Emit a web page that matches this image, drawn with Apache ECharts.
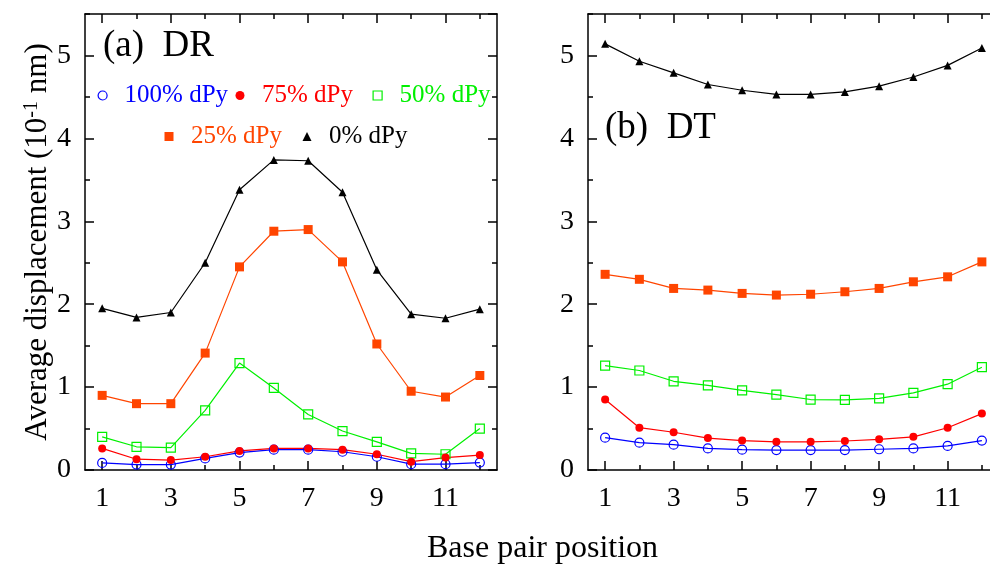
<!DOCTYPE html>
<html>
<head>
<meta charset="utf-8">
<script src="https://cdn.jsdelivr.net/npm/echarts@6/dist/echarts.min.js"></script>
<style>
  html, body { margin: 0; padding: 0; background: #fff; }
  #chart { width: 990px; height: 566px; }
</style>
</head>
<body>
<div id="chart"></div>
<script>
  // base pair positions
  const positions = ['1', '2', '3', '4', '5', '6', '7', '8', '9', '10', '11', '12'];

  // (a) DR
  const drDpy100 = [0.085, 0.065, 0.065, 0.14, 0.21, 0.245, 0.245, 0.22, 0.16, 0.07, 0.07, 0.09];
  const drDpy75 = [0.26, 0.13, 0.12, 0.16, 0.23, 0.26, 0.26, 0.245, 0.19, 0.10, 0.15, 0.18];
  const drDpy50 = [0.40, 0.28, 0.27, 0.72, 1.29, 0.99, 0.67, 0.47, 0.34, 0.20, 0.19, 0.50];
  const drDpy25 = [0.90, 0.80, 0.80, 1.41, 2.45, 2.88, 2.90, 2.51, 1.52, 0.95, 0.88, 1.14];
  const drDpy0 = [1.95, 1.84, 1.90, 2.50, 3.38, 3.74, 3.73, 3.35, 2.415, 1.88, 1.83, 1.94];

  // (b) DT
  const dtDpy100 = [0.39, 0.33, 0.305, 0.26, 0.245, 0.24, 0.24, 0.24, 0.25, 0.26, 0.29, 0.355];
  const dtDpy75 = [0.85, 0.51, 0.455, 0.385, 0.355, 0.34, 0.34, 0.35, 0.37, 0.40, 0.51, 0.68];
  const dtDpy50 = [1.26, 1.20, 1.07, 1.02, 0.96, 0.91, 0.85, 0.845, 0.865, 0.93, 1.035, 1.24];
  const dtDpy25 = [2.36, 2.30, 2.19, 2.17, 2.13, 2.11, 2.12, 2.15, 2.19, 2.27, 2.33, 2.51];
  const dtDpy0 = [5.14, 4.93, 4.79, 4.65, 4.58, 4.53, 4.53, 4.56, 4.63, 4.74, 4.88, 5.09];

  const seriesNames = ['100% dPy', '75% dPy', '50% dPy', '25% dPy', '0% dPy'];

  const FONT = '"Liberation Serif", "DejaVu Serif", serif';
  const AXIS_COLOR = '#000';

  const styles = {
    '100% dPy': { color: '#0000ff', symbol: 'circle', size: 9, hollow: true },
    '75% dPy': { color: '#ff0000', symbol: 'circle', size: 8, hollow: false },
    '50% dPy': { color: '#00f000', symbol: 'rect', size: 9, hollow: true },
    '25% dPy': { color: '#ff4500', symbol: 'rect', size: 9, hollow: false },
    '0% dPy': { color: '#000000', symbol: 'triangle', size: 8, hollow: false },
  };

  // legend key positions (icon centre x, row centre y)
  const legendSpots = {
    '100% dPy': [102, 97],
    '75% dPy': [240, 97],
    '50% dPy': [377, 97],
    '25% dPy': [169, 138],
    '0% dPy': [307, 138],
  };

  const itemStyleFor = (name) => {
    const s = styles[name];
    return s.hollow
      ? { color: 'rgba(0,0,0,0)', borderColor: s.color, borderWidth: 1.2 }
      : { color: s.color, borderWidth: 0 };
  };

  const makeSeries = (name, data, idx) => ({
    name: name,
    type: 'line',
    data: data,
    xAxisIndex: idx * 4,
    yAxisIndex: idx * 4,
    symbol: styles[name].symbol,
    symbolSize: styles[name].size,
    lineStyle: { width: 1.2, color: styles[name].color },
    itemStyle: itemStyleFor(name),
    emphasis: { disabled: true },
  });

  const tickStyle = { color: AXIS_COLOR, width: 1.5 };

  // x axes: major/minor ticks on bottom and top of each panel
  const makeXAxes = (gridIndex) => {
    const base = {
      gridIndex: gridIndex,
      type: 'category',
      data: positions,
      boundaryGap: true,
      splitLine: { show: false },
    };
    return [
      {
        ...base,
        position: 'bottom',
        axisLine: { show: true, onZero: false, lineStyle: tickStyle },
        axisTick: { show: true, inside: true, alignWithLabel: true, interval: 1, length: 9, lineStyle: tickStyle },
        axisLabel: { interval: 1, margin: 15, fontSize: 28, fontFamily: FONT, color: '#000' },
      },
      {
        ...base,
        position: 'bottom',
        axisLine: { show: false, onZero: false },
        axisTick: { show: true, inside: true, alignWithLabel: true, interval: 0, length: 5, lineStyle: tickStyle },
        axisLabel: { show: false },
      },
      {
        ...base,
        position: 'top',
        axisLine: { show: true, onZero: false, lineStyle: tickStyle },
        axisTick: { show: true, inside: true, alignWithLabel: true, interval: 1, length: 9, lineStyle: tickStyle },
        axisLabel: { show: false },
      },
      {
        ...base,
        position: 'top',
        axisLine: { show: false, onZero: false },
        axisTick: { show: true, inside: true, alignWithLabel: true, interval: 0, length: 5, lineStyle: tickStyle },
        axisLabel: { show: false },
      },
    ];
  };

  const makeYAxes = (gridIndex, withName) => {
    const base = {
      gridIndex: gridIndex,
      type: 'value',
      min: 0,
      max: 5.5,
      splitLine: { show: false },
    };
    const major = {
      ...base,
      position: 'left',
      interval: 1,
      axisLine: { show: true, onZero: false, lineStyle: tickStyle },
      axisTick: { show: true, inside: true, length: 9, lineStyle: tickStyle },
      axisLabel: { margin: 14, fontSize: 28, fontFamily: FONT, color: '#000', showMaxLabel: false },
    };
    if (withName) {
      major.name = '{t|Average displacement (10}{s|-1}{t| nm)}';
      major.nameLocation = 'middle';
      major.nameGap = 30;
      major.nameTextStyle = {
        color: '#000',
        rich: {
          t: { fontSize: 31, fontFamily: FONT, color: '#000' },
          s: { fontSize: 20, fontFamily: FONT, color: '#000', verticalAlign: 'top' },
        },
      };
    }
    return [
      major,
      {
        ...base,
        position: 'left',
        interval: 0.5,
        axisLine: { show: false, onZero: false },
        axisTick: { show: true, inside: true, length: 5, lineStyle: tickStyle },
        axisLabel: { show: false },
      },
      {
        ...base,
        position: 'right',
        interval: 1,
        axisLine: { show: true, onZero: false, lineStyle: tickStyle },
        axisTick: { show: true, inside: true, length: 9, lineStyle: tickStyle },
        axisLabel: { show: false },
      },
      {
        ...base,
        position: 'right',
        interval: 0.5,
        axisLine: { show: false, onZero: false },
        axisTick: { show: true, inside: true, length: 5, lineStyle: tickStyle },
        axisLabel: { show: false },
      },
    ];
  };

  // one legend per key so each sits where the original places it
  const legends = seriesNames.map((name) => ({
    orient: 'horizontal',
    left: legendSpots[name][0] - 4.5,
    top: legendSpots[name][1] - 14,
    padding: 0,
    itemWidth: 9,
    itemHeight: 9,
    selectedMode: false,
    formatter: (n) => '  ' + n,
    textStyle: { fontSize: 25, fontFamily: FONT, color: styles[name].color },
    data: [{ name: name, icon: styles[name].symbol, itemStyle: itemStyleFor(name) }],
  }));

  const chart = echarts.init(document.getElementById('chart'), null, { renderer: 'canvas' });

  const option = {
    animation: false,
    backgroundColor: '#fff',
    title: [
      {
        text: '(a)  DR',
        left: 103,
        top: 28,
        padding: 0,
        textStyle: { fontSize: 37, fontFamily: FONT, fontWeight: 'normal', color: '#000' },
      },
      {
        text: '(b)  DT',
        left: 605,
        top: 110,
        padding: 0,
        textStyle: { fontSize: 37, fontFamily: FONT, fontWeight: 'normal', color: '#000' },
      },
      {
        text: 'Base pair position',
        left: 427,
        top: 533,
        padding: 0,
        textStyle: { fontSize: 32, fontFamily: FONT, fontWeight: 'normal', color: '#000' },
      },
    ],
    legend: legends,
    grid: [
      { left: 85, right: 493, top: 14, bottom: 96, outerBoundsMode: 'none' },
      { left: 588, right: -9, top: 14, bottom: 96, outerBoundsMode: 'none' },
    ],
    xAxis: [...makeXAxes(0), ...makeXAxes(1)],
    yAxis: [...makeYAxes(0, true), ...makeYAxes(1, false)],
    series: [
      makeSeries('0% dPy', drDpy0, 0),
      makeSeries('25% dPy', drDpy25, 0),
      makeSeries('50% dPy', drDpy50, 0),
      makeSeries('100% dPy', drDpy100, 0),
      makeSeries('75% dPy', drDpy75, 0),
      makeSeries('0% dPy', dtDpy0, 1),
      makeSeries('25% dPy', dtDpy25, 1),
      makeSeries('50% dPy', dtDpy50, 1),
      makeSeries('100% dPy', dtDpy100, 1),
      makeSeries('75% dPy', dtDpy75, 1),
    ],
  };

  chart.setOption(option);
</script>
</body>
</html>
